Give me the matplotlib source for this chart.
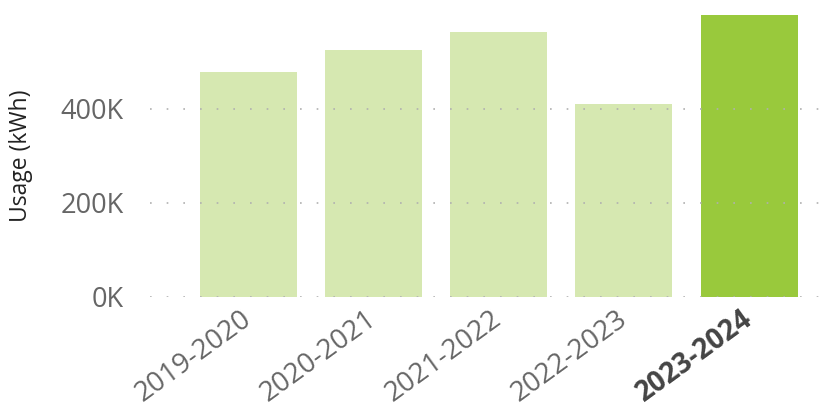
import matplotlib
matplotlib.use('Agg')
import matplotlib.pyplot as plt
from matplotlib.ticker import FuncFormatter

seasons = ['2019-2020', '2020-2021', '2021-2022', '2022-2023', '2023-2024']
usage_kwh = [477000, 524000, 563000, 409000, 599000]
highlight = '2023-2024'

plt.rcParams['font.family'] = ['Open Sans', 'DejaVu Sans']

fig = plt.figure(figsize=(8.28, 4.07), dpi=100)
ax = fig.add_axes([150 / 828, 0.271, 1 - 150 / 828, 0.692])

colors = ['#99c93c' if s == highlight else '#d6e8b1' for s in seasons]
x = list(range(len(seasons)))
ax.bar(x, usage_kwh, width=0.775, color=colors, zorder=1)

ax.set_xlim(-0.787, 4.63)
ax.set_ylim(0, 599000)
ax.set_yticks([0, 200000, 400000])
ax.yaxis.set_major_formatter(FuncFormatter(lambda v, p: '%dK' % (v / 1000)))

# dotted grid, drawn over the bars
ax.grid(axis='y', color='#b0b0b0', linestyle=(0, (1, 9)), linewidth=1.2, zorder=3)
ax.set_axisbelow(False)
ax.grid(axis='x', visible=False)

for s in ax.spines.values():
    s.set_visible(False)
ax.tick_params(axis='both', length=0)
ax.tick_params(axis='y', labelsize=19.5, labelcolor='#666666', pad=19)

ax.set_xticks(x)
ax.set_xticklabels(seasons, rotation=36, ha='right', va='center',
                   rotation_mode='anchor', fontsize=20, color='#666666')
for lbl in ax.get_xticklabels():
    if lbl.get_text() == highlight:
        lbl.set_fontweight('bold')
        lbl.set_color('#444444')
ax.tick_params(axis='x', pad=14)

ax.set_ylabel('Usage (kWh)', fontsize=16.5, color='#222222')
ax.yaxis.set_label_coords(-0.173, 0.5)

plt.savefig('out.png', dpi=100)
